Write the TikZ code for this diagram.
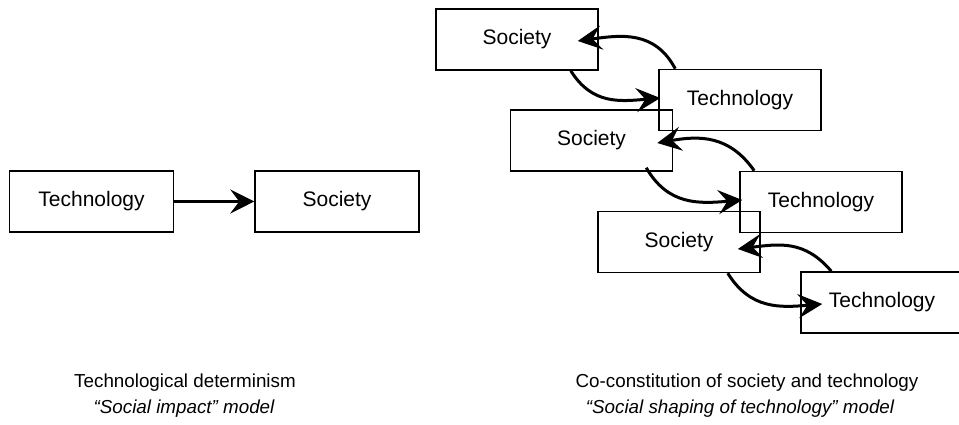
\documentclass[tikz,border=0pt]{standalone}
\usepackage{fontspec}
\setmainfont{Liberation Sans}
\usetikzlibrary{arrows.meta,positioning,calc}

\begin{document}
\begin{tikzpicture}[x=0.5bp,y=0.5bp,->,>={Stealth[length=12bp,width=12bp,inset=4.5bp]},
                    line width=1.5bp,
                    box/.style={draw,rectangle,line width=0.75bp,minimum width=81bp,
                                minimum height=30.5bp,font=\fontsize{10.5bp}{12bp}\selectfont},
                    caption/.style={font=\fontsize{9.4bp}{11bp}\selectfont},
                    model/.style={font=\fontsize{9.4bp}{11bp}\selectfont\itshape}]

 \useasboundingbox (0,0) rectangle (959,425);
 \clip (0,0) rectangle (959,425);

 % determinism
 \node[box,minimum width=82bp] (techA) at (91.5,223.5) {Technology};
 \node[box,minimum width=82bp] (socA)  [right=40bp of techA] {Society};

 \draw (techA) -- (socA);

 % co-constitution
 \node[box] (s1) at (517,385.5)   {Society};
 \node[box] (t1) at (740,325)     {Technology};
 \node[box] (s2) at (591.5,284.5) {Society};
 \node[box] (t2) at (821,223)     {Technology};
 \node[box] (s3) at (679,183)     {Society};
 \node[box] (t3) at (882,122.5)   {Technology};

 \draw ($(t1.north west)+(17,0)$) to[out=118,in=8,looseness=1.1]  ($(s1.east)+(-21,-1.5)$);
 \draw ($(s1.south east)+(-28,0)$) to[out=-58,in=185,looseness=1.1] ($(t1.west)+(2,2)$);
 \draw ($(t2.north west)+(15,0)$) to[out=125,in=10,looseness=1.1]  ($(s2.east)+(-16,-2.5)$);
 \draw ($(s2.south east)+(-27,4)$) to[out=-60,in=185,looseness=1.1] ($(t2.west)+(3,2)$);
 \draw ($(t3.north west)+(31,0)$) to[out=130,in=7,looseness=1.1]   ($(s3.east)+(-23,-7)$);
 \draw ($(s3.south east)+(-33,0)$) to[out=-58,in=185,looseness=1.1] ($(t3.west)+(22,-1.5)$);

 % captions
 \node[caption] (detA) at (185,42) {Technological determinism};
 \node[model]   (detB) at (184,16) {“Social impact” model};
 \node[caption] (cocA) at (747,42) {Co-constitution of society and technology};
 \node[model]   (cocB) at (740,16) {“Social shaping of technology” model};

\end{tikzpicture}
\end{document}
